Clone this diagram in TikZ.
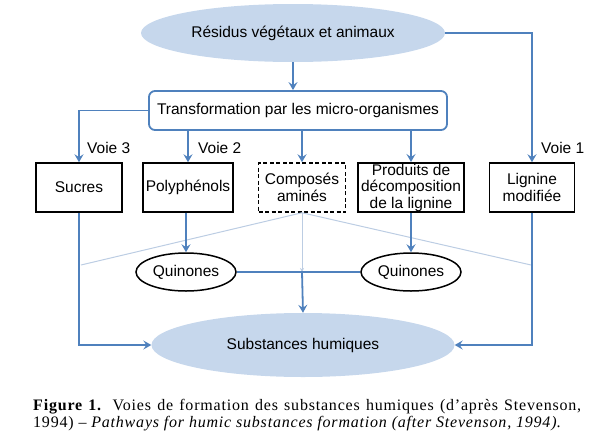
\documentclass[tikz,border=0pt]{standalone}
\usepackage{fontspec}
\usepackage{tikz}
\usetikzlibrary{shapes.geometric,arrows.meta}
\newfontfamily\diagfont{Liberation Sans}
\newfontfamily\capfont[LetterSpace=5]{Liberation Serif}
\definecolor{flowBlue}{RGB}{79,129,189}
\definecolor{fillBlue}{RGB}{198,215,236}
\definecolor{faintBlue}{RGB}{188,205,227}

\tikzset{
  flow/.style={draw=flowBlue, line width=1.8pt, -{Stealth[length=8pt,width=9pt,inset=3pt]}},
  link/.style={draw=flowBlue, line width=1.8pt},
  faint/.style={draw=faintBlue, line width=1pt},
  blob/.style={ellipse, fill=fillBlue, inner sep=0pt},
  stage/.style={draw, line width=1.5pt, inner sep=1pt, minimum height=49pt, align=center},
  quin/.style={ellipse, draw, line width=1.5pt, minimum width=100pt, minimum height=38pt, inner sep=0pt},
  voie/.style={anchor=west, inner sep=0pt},
}

\begin{document}
\begin{tikzpicture}[x=1pt, y=-1pt, font=\diagfont\fontsize{15.5}{16.5}\selectfont]
    \useasboundingbox (0,0) rectangle (595,445);

    % Top ellipse and transformation box
    \node[blob, minimum width=304pt, minimum height=58pt] (res) at (293,33) {Résidus végétaux et animaux};
    \node[draw=flowBlue, line width=1.8pt, rounded corners=6pt, minimum width=298pt, minimum height=39pt] (trans) at (298,110.5) {Transformation par les micro-organismes};

    % Intermediate products
    \node[stage, minimum width=86pt] (sucres) at (79,187.5) {Sucres};
    \node[stage, minimum width=90pt] (poly) at (188,187.5) {Polyphénols};
    \node[stage, dash pattern=on 4pt off 2.5pt, minimum width=87pt] (amines) at (302,187.5) {Composés\\aminés};
    \node[stage, minimum width=106pt] (lignprod) at (411,187.5) {Produits de\\décomposition\\de la lignine};
    \node[stage, minimum width=85pt] (lignmod) at (532,187.5) {Lignine\\modifiée};

    % Quinones and humic substances
    \node[quin] (quinL) at (186,272) {Quinones};
    \node[quin] (quinR) at (411,272) {Quinones};
    \node[blob, minimum width=303pt, minimum height=64pt] (humiques) at (303,345) {Substances humiques};

    % Pathway labels
    \node[voie] (v3) at (87,148) {Voie 3};
    \node[voie] (v2) at (198,148) {Voie 2};
    \node[voie] (v1) at (541,148) {Voie 1};

    % Faint links from the amino compounds
    \coordinate (mid) at (302,272);
    \coordinate (faintL) at (81,265);
    \coordinate (faintR) at (531,265);
    \draw[faint] (faintL) -- (amines.south) -- (faintR);
    \draw[faint, -{Stealth[length=4pt,width=4pt]}] (amines.south) -- (mid);

    % Upper arrows
    \draw[flow] (res.south) -- (res.south |- trans.north);
    \draw[flow] (trans.west) -| (sucres.north);
    \draw[flow] (trans.south -| poly.north) -- (poly.north);
    \draw[flow] (trans.south -| amines.north) -- (amines.north);
    \draw[flow] (trans.south -| lignprod.north) -- (lignprod.north);
    \draw[flow] (res.east) -| (lignmod.north);

    % Lower arrows
    \draw[flow] (poly.south -| quinL.north) -- (quinL.north);
    \draw[flow] (lignprod.south) -- (quinR.north);
    \draw[link] (quinL.east) -- (quinR.west);
    \draw[flow] (mid) -- (humiques.north);
    \draw[flow] (sucres.south) |- (humiques.west);
    \draw[flow] (lignmod.south) |- (humiques.east);

    % Caption
    \node[anchor=north west, inner sep=0pt, text width=548pt, align=justify, font=\capfont\fontsize{16}{17.5}\selectfont] (caption) at (33,399) {\textbf{Figure 1.} Voies de formation des substances humiques (d’après Stevenson, 1994) – \textit{Pathways for humic substances formation (after Stevenson, 1994)}.};
  \end{tikzpicture}
\end{document}
